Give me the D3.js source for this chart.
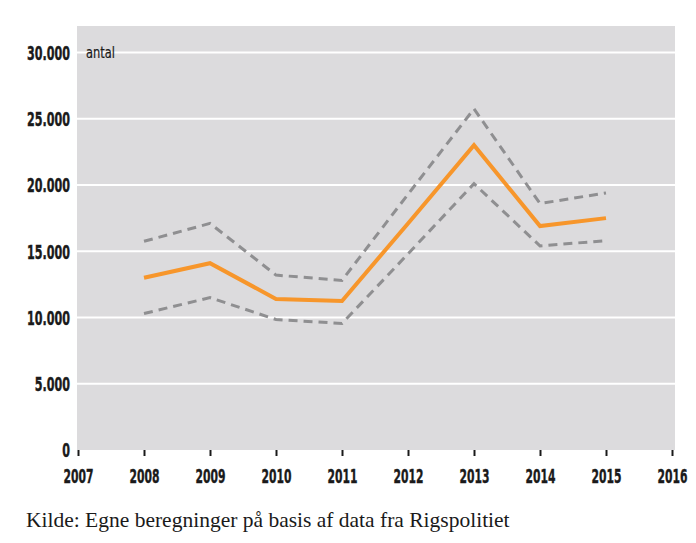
<!DOCTYPE html>
<html>
<head>
<meta charset="utf-8">
<script src="https://cdn.jsdelivr.net/npm/d3@7"></script>
<style>
  body { margin: 0; background: #fff; }
  svg { display: block; }
</style>
</head>
<body>
<div id="chart"></div>
<script>
const years = [2008, 2009, 2010, 2011, 2012, 2013, 2014, 2015];
const central = [13000, 14100, 11400, 11250, 17100, 23000, 16900, 17500];
const upper = [15750, 17100, 13200, 12800, 19300, 25750, 18600, 19400];
const lower = [10300, 11500, 9850, 9550, 14800, 20100, 15400, 15800];
const yTicks = [0, 5000, 10000, 15000, 20000, 25000, 30000];
const xTicks = [2007, 2008, 2009, 2010, 2011, 2012, 2013, 2014, 2015, 2016];
const unitLabel = "antal";
const source = "Kilde: Egne beregninger på basis af data fra Rigspolitiet";

const W = 696, H = 543;
const margin = { top: 26, right: 21, bottom: 93, left: 77 };
const width = W - margin.left - margin.right;
const height = H - margin.top - margin.bottom;

const svg = d3.select("#chart").append("svg")
  .attr("width", W)
  .attr("height", H);

const g = svg.append("g")
  .attr("transform", "translate(" + margin.left + "," + margin.top + ")");

const x = d3.scaleLinear().domain([2007, 2016]).range([1, 595]);
const y = d3.scaleLinear().domain([0, 32000]).range([height, 0]);

g.append("rect")
  .attr("width", width)
  .attr("height", height)
  .attr("fill", "#dcdbdd");

// grid lines
g.selectAll(".grid")
  .data(yTicks.filter(d => d > 0))
  .enter().append("line")
  .attr("x1", 0)
  .attr("x2", width)
  .attr("y1", d => y(d))
  .attr("y2", d => y(d))
  .attr("stroke", "#fff")
  .attr("stroke-width", 2);

const labelFont = "'DejaVu Sans Condensed', 'DejaVu Sans', sans-serif";

// squeeze text horizontally so it looks like the condensed original face
function squeeze(sel, sample, target, anchorX) {
  const w = sel.filter(function () { return this.textContent === sample; }).node().getComputedTextLength();
  const k = target / w;
  sel.attr("x", anchorX / k).attr("transform", "scale(" + k + ",1)");
}

// y axis labels
const yAxis = g.append("g")
  .call(d3.axisLeft(y).tickValues(yTicks).tickSize(0).tickPadding(7)
    .tickFormat(d => d3.format(",")(d).replace(/,/g, ".")));
yAxis.select(".domain").remove();
const yText = yAxis.selectAll("text")
  .attr("font-family", labelFont)
  .attr("font-weight", "bold")
  .attr("font-size", "19px")
  .attr("dy", "0.36em")
  .attr("fill", "#1a1a1a")
  .attr("stroke", "#1a1a1a")
  .attr("stroke-width", 0.4);
squeeze(yText, "10.000", 43, -7);

// x axis
const xAxis = g.append("g")
  .attr("transform", "translate(0," + height + ")")
  .call(d3.axisBottom(x).tickValues(xTicks).tickSize(6).tickPadding(13).tickFormat(d3.format("d")));
xAxis.select(".domain").remove();
xAxis.selectAll("line")
  .attr("stroke", "#1a1a1a")
  .attr("stroke-width", 2);
const xText = xAxis.selectAll("text")
  .attr("font-family", labelFont)
  .attr("font-weight", "bold")
  .attr("font-size", "20px")
  .attr("fill", "#1a1a1a")
  .attr("stroke", "#1a1a1a")
  .attr("stroke-width", 0.4);
squeeze(xText, "2007", 30, 0);

const line = d3.line()
  .x(d => x(d[0]))
  .y(d => y(d[1]));

[upper, lower].forEach(series => {
  g.append("path")
    .datum(years.map((yr, i) => [yr, series[i]]))
    .attr("fill", "none")
    .attr("stroke", "#8f8f91")
    .attr("stroke-width", 3)
    .attr("stroke-dasharray", "9,6")
    .attr("d", line);
});

g.append("path")
  .datum(years.map((yr, i) => [yr, central[i]]))
  .attr("fill", "none")
  .attr("stroke", "#f7962b")
  .attr("stroke-width", 4)
  .attr("d", line);

const unit = g.append("text")
  .attr("y", y(30000) + 6)
  .attr("font-family", labelFont)
  .attr("font-size", "16px")
  .attr("fill", "#1a1a1a")
  .attr("stroke", "#1a1a1a")
  .attr("stroke-width", 0.2)
  .text(unitLabel);
squeeze(unit, unitLabel, 29, 9);

svg.append("text")
  .attr("x", 26)
  .attr("y", 527)
  .attr("font-family", "'Liberation Serif', serif")
  .attr("font-size", "21.5px")
  .attr("fill", "#1a1a1a")
  .text(source);
</script>
</body>
</html>
